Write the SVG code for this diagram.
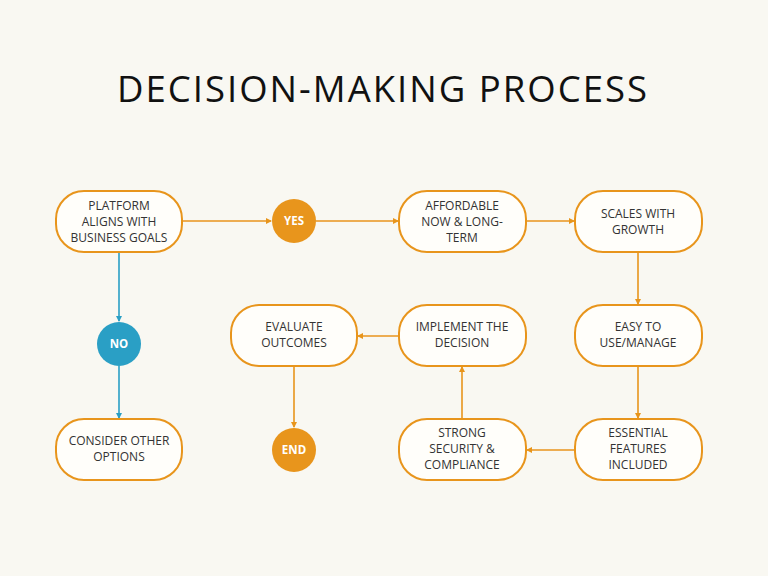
<svg xmlns="http://www.w3.org/2000/svg" width="768" height="576" viewBox="0 0 768 576">
<defs>
<marker id="ao" markerWidth="6" markerHeight="6" refX="5" refY="3" orient="auto" markerUnits="userSpaceOnUse"><path d="M0,0 L6,3 L0,6 Z" fill="#e8951c"/></marker>
<marker id="ab" markerWidth="6" markerHeight="6" refX="5" refY="3" orient="auto" markerUnits="userSpaceOnUse"><path d="M0,0 L6,3 L0,6 Z" fill="#2a9fc5"/></marker>
</defs>
<style>
.box{fill:#fffefa;stroke:#e8951c;stroke-width:2}
.t{font-family:"Open Sans","Liberation Sans",sans-serif;font-size:12px;fill:#333;text-anchor:middle}
.c{font-family:"Open Sans","Liberation Sans",sans-serif;font-size:11.5px;font-weight:bold;fill:#fff;text-anchor:middle}
.lo{stroke:#e8951c;stroke-width:1.6;fill:none;marker-end:url(#ao)}
.lb{stroke:#2a9fc5;stroke-width:1.6;fill:none;marker-end:url(#ab)}
</style>
<rect width="768" height="576" fill="#f9f8f2"/>
<text x="383" y="102" font-family="'Open Sans','Liberation Sans',sans-serif" font-size="36.5" letter-spacing="2" fill="#111" text-anchor="middle">DECISION-MAKING PROCESS</text>
<g id="connectors">
<path class="lo" d="M182,221 H271"/>
<path class="lo" d="M316,221 H398"/>
<path class="lo" d="M526,221 H574"/>
<path class="lo" d="M638,252 V304"/>
<path class="lo" d="M638,366 V418"/>
<path class="lo" d="M575,450 H527"/>
<path class="lo" d="M462,419 V367"/>
<path class="lo" d="M399,336 H358"/>
<path class="lo" d="M294,366 V427"/>
<path class="lb" d="M119,252 V321"/>
<path class="lb" d="M119,366 V418"/>
</g>
<g id="n1"><rect class="box" x="56" y="191" width="126" height="61" rx="28"/><text class="t" x="119" y="210">PLATFORM</text><text class="t" x="119" y="226">ALIGNS WITH</text><text class="t" x="119" y="242">BUSINESS GOALS</text></g>
<g id="yes"><circle cx="294" cy="221" r="22" fill="#e8951c"/><text class="c" x="294" y="225">YES</text></g>
<g id="n2"><rect class="box" x="399" y="191" width="127" height="61" rx="28"/><text class="t" x="462" y="210">AFFORDABLE</text><text class="t" x="462" y="226">NOW &amp; LONG-</text><text class="t" x="462" y="242">TERM</text></g>
<g id="n3"><rect class="box" x="575" y="191" width="127" height="61" rx="28"/><text class="t" x="638" y="218">SCALES WITH</text><text class="t" x="638" y="234">GROWTH</text></g>
<g id="no"><circle cx="119" cy="344" r="22" fill="#2a9fc5"/><text class="c" x="119" y="348">NO</text></g>
<g id="n6"><rect class="box" x="231" y="305" width="126" height="61" rx="28"/><text class="t" x="294" y="331">EVALUATE</text><text class="t" x="294" y="347">OUTCOMES</text></g>
<g id="n5"><rect class="box" x="399" y="305" width="127" height="61" rx="28"/><text class="t" x="462" y="331">IMPLEMENT THE</text><text class="t" x="462" y="347">DECISION</text></g>
<g id="n4"><rect class="box" x="575" y="305" width="127" height="61" rx="28"/><text class="t" x="638" y="331">EASY TO</text><text class="t" x="638" y="347">USE/MANAGE</text></g>
<g id="n9"><rect class="box" x="56" y="419" width="126" height="61" rx="28"/><text class="t" x="119" y="445">CONSIDER OTHER</text><text class="t" x="119" y="461">OPTIONS</text></g>
<g id="end"><circle cx="294" cy="450" r="22" fill="#e8951c"/><text class="c" x="294" y="454">END</text></g>
<g id="n7"><rect class="box" x="399" y="419" width="127" height="61" rx="28"/><text class="t" x="462" y="437">STRONG</text><text class="t" x="462" y="453">SECURITY &amp;</text><text class="t" x="462" y="469">COMPLIANCE</text></g>
<g id="n8"><rect class="box" x="575" y="419" width="127" height="61" rx="28"/><text class="t" x="638" y="437">ESSENTIAL</text><text class="t" x="638" y="453">FEATURES</text><text class="t" x="638" y="469">INCLUDED</text></g>
</svg>
